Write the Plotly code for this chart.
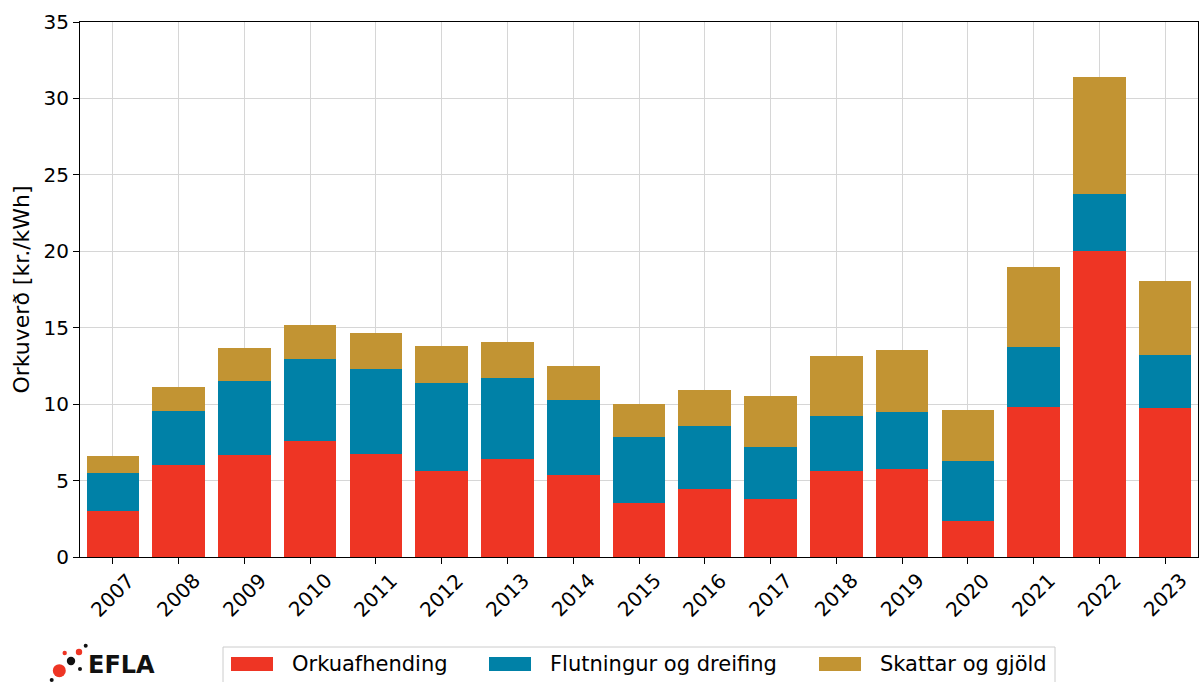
import plotly.graph_objects as go

years = [str(y) for y in range(2007, 2024)]
orkuafhending = [3.0, 6.0, 6.66, 7.58, 6.75, 5.6, 6.41, 5.36, 3.51, 4.47, 3.79, 5.64, 5.78, 2.38, 9.81, 20.0, 9.72]
flutningur = [2.49, 3.52, 4.88, 5.37, 5.56, 5.76, 5.32, 4.93, 4.32, 4.10, 3.40, 3.59, 3.69, 3.91, 3.96, 3.76, 3.49]
skattar = [1.14, 1.58, 2.16, 2.23, 2.36, 2.46, 2.31, 2.22, 2.17, 2.35, 3.32, 3.91, 4.06, 3.33, 5.20, 7.63, 4.84]

series_names = ["Orkuafhending", "Flutningur og dreifing", "Skattar og gjöld"]
series_colors = ["#EE3524", "#0081A7", "#C29433"]
y_ticks = [0, 5, 10, 15, 20, 25, 30, 35]

FONT = "DejaVu Sans"
W, H = 1200, 682
L, R, T, B = 80, 2, 22, 125

fig = go.Figure()
for name, vals, col in zip(series_names, [orkuafhending, flutningur, skattar], series_colors):
    fig.add_trace(go.Bar(x=years, y=vals, name=name, showlegend=False,
                         marker=dict(color=col, line=dict(width=0))))

def px(X):
    return (X - L) / (W - L - R)

def py(Y):
    return (H - B - Y) / (H - T - B)

shapes = []
annotations = []

# EFLA logo built from circles and text
dots = [
    (59.3, 670.7, 6.5, "#EE3524"),
    (79, 652, 3.2, "#EE3524"),
    (64.7, 653, 2.2, "#EE3524"),
    (71, 661, 4.2, "#111111"),
    (85.7, 645.7, 2.0, "#111111"),
    (80, 669, 2.0, "#111111"),
    (51.7, 680, 2.0, "#111111"),
]
for cx, cy, r, c in dots:
    shapes.append(dict(type="circle", xref="paper", yref="paper", xsizemode="pixel", ysizemode="pixel",
                       xanchor=px(cx), yanchor=py(cy), x0=-r, x1=r, y0=-r, y1=r,
                       fillcolor=c, line=dict(width=0)))
annotations.append(dict(text="<b>EFLA</b>", xref="paper", yref="paper", x=px(86), y=py(665),
                        xanchor="left", yanchor="middle", showarrow=False,
                        font=dict(family="DejaVu Sans", size=24, color="#111111")))

# rotated year labels centred under each tick (matplotlib style)
for i, yr in enumerate(years):
    annotations.append(dict(text=yr, xref="x", yref="paper", x=i, y=0, yshift=-38,
                            xanchor="center", yanchor="middle", textangle=-45, showarrow=False,
                            font=dict(family=FONT, size=20, color="black")))

# legend (matplotlib-like, below the plot)
shapes.append(dict(type="rect", xref="paper", yref="paper", x0=px(223), x1=px(1055), y0=py(695), y1=py(647),
                   fillcolor="white", line=dict(color="#cccccc", width=1), layer="above"))
swatch_x = [231, 489, 819]
for name, col, sx in zip(series_names, series_colors, swatch_x):
    shapes.append(dict(type="rect", xref="paper", yref="paper", x0=px(sx), x1=px(sx + 42),
                       y0=py(671), y1=py(657), fillcolor=col, line=dict(width=0), layer="above"))
    annotations.append(dict(text=name, xref="paper", yref="paper", x=px(sx + 59), y=py(664),
                            xanchor="left", yanchor="middle", showarrow=False,
                            font=dict(family=FONT, size=21, color="black")))

fig.update_layout(
    width=W, height=H,
    margin=dict(l=L, r=R, t=T, b=B, autoexpand=False),
    barmode="stack", bargap=0.2,
    plot_bgcolor="white", paper_bgcolor="white",
    font=dict(family=FONT, size=19, color="black"),
    shapes=shapes,
    annotations=annotations,
    showlegend=False,
    xaxis=dict(type="category", range=[-0.5, 16.5], showticklabels=False,
               showline=True, mirror=True, linecolor="black", linewidth=1.2,
               ticks="outside", ticklen=6, tickcolor="black",
               showgrid=True, gridcolor="#d6d6d6", gridwidth=1),
    yaxis=dict(range=[0, 35], tickvals=y_ticks, tickfont=dict(size=20),
               title=dict(text="Orkuverð [kr./kWh]", standoff=7, font=dict(size=22)),
               showline=True, mirror=True, linecolor="black", linewidth=1.2,
               ticks="outside", ticklen=6, tickcolor="black",
               showgrid=True, gridcolor="#d6d6d6", gridwidth=1, zeroline=False),
)

fig.write_html("out.html", config={"displayModeBar": False},
               post_script="document.body.style.margin='0';")
